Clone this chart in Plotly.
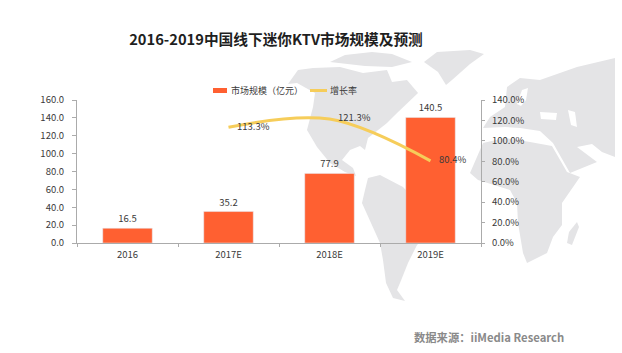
import plotly.graph_objects as go

categories = ["2016", "2017E", "2018E", "2019E"]
market_size = [16.5, 35.2, 77.9, 140.5]
growth_rate = [None, 113.3, 121.3, 80.4]
growth_labels = ["", "113.3%", "121.3%", "80.4%"]
left_ticks = [0, 20, 40, 60, 80, 100, 120, 140, 160]
right_ticks = [0, 20, 40, 60, 80, 100, 120, 140]

W, H = 622, 353
ML, MR, MT, MB = 77, 141, 100, 110
FONT = "Noto Sans CJK SC, Open Sans, sans-serif"
TXT = "#3a3a3a"
MAP = "#e4e4e6"
BAR = "#FF6031"
LINE = "#F6CD5A"

# Decorative backdrop outlines, in page pixels
land = [
    [(298,70),(313,68),(340,67),(363,73),(387,70),(392,82),(407,80),(418,93),(397,113),(387,123),(368,138),(365,150),(360,146),(350,150),(342,160),(353,168),(356,176),(345,172),(330,163),(317,147),(307,130),(313,107),(315,93),(297,83),(288,84)],
    [(330,62),(345,55),(372,52),(392,54),(412,62),(392,67),(365,66)],
    [(437,52),(470,50),(484,54),(470,64),(452,80),(446,85),(438,72),(424,62)],
    [(368,178),(380,175),(403,187),(420,205),(440,215),(432,232),(417,245),(408,263),(400,283),(397,290),(405,301),(393,298),(386,283),(383,260),(380,243),(362,203),(365,190)],
    [(507,87),(520,78),(540,80),(577,67),(615,58),(615,157),(602,152),(592,144),(577,147),(597,162),(570,173),(553,143),(540,131),(520,128),(505,127),(483,128),(490,117),(505,107)],
    [(470,173),(483,143),(505,138),(530,142),(552,146),(567,172),(580,177),(562,203),(562,225),(553,237),(547,253),(527,263),(523,253),(518,223),(517,203),(510,190),(478,180)],
    [(577,222),(579,227),(572,245),(567,243),(569,232)],
]
water = [
    [(540,112),(557,113),(556,120),(541,119)],
    [(568,110),(575,112),(577,127),(571,125)],
    [(517,104),(522,90),(528,88),(526,100),(521,106)],
]

def px(x, y):
    return (x - ML) / (W - ML - MR), 1 - (y - MT) / (H - MT - MB)

def path(points):
    return "M" + " L".join("%.4f,%.4f" % px(*p) for p in points) + " Z"

shapes = [dict(type="path", path=path(p), xref="paper", yref="paper", fillcolor=MAP,
               line=dict(width=0), layer="below") for p in land]
shapes += [dict(type="path", path=path(p), xref="paper", yref="paper", fillcolor="white",
                line=dict(width=0), layer="below") for p in water]

# Legend keys: wide flat swatch and short line, as in the source
x0, y0 = px(213, 88)
x1, y1 = px(227, 93)
shapes.append(dict(type="rect", xref="paper", yref="paper", x0=x0, x1=x1, y0=y0, y1=y1,
                   fillcolor=BAR, line=dict(width=0)))
x0, y0 = px(310, 90.5)
x1, _ = px(327, 90.5)
shapes.append(dict(type="line", xref="paper", yref="paper", x0=x0, x1=x1, y0=y0, y1=y0,
                   line=dict(color=LINE, width=3)))

def note(text, x, y, anchor, size, color):
    ax, ay = px(x, y)
    return dict(text=text, xref="paper", yref="paper", x=ax, y=ay, xanchor=anchor, yanchor="middle",
                showarrow=False, font=dict(size=size, color=color, family=FONT))

fig = go.Figure()
fig.add_bar(
    x=categories, y=market_size, name="市场规模（亿元）", marker_color=BAR, width=0.49,
    text=["%.1f" % v for v in market_size], textposition="outside", cliponaxis=False,
    textfont=dict(size=9.5, color=TXT, family=FONT),
)
fig.add_scatter(
    x=categories, y=growth_rate, name="增长率", yaxis="y2", mode="lines+text",
    line=dict(color=LINE, width=3, shape="spline", smoothing=1),
    text=["\u00a0\u00a0\u00a0\u00a0" + t for t in growth_labels], textposition="middle right",
    cliponaxis=False, textfont=dict(size=9.5, color=TXT, family=FONT),
)

axis_line = "#ababab"
fig.update_layout(
    width=W, height=H, autosize=False, showlegend=False,
    margin=dict(l=ML, r=MR, t=MT, b=MB),
    paper_bgcolor="white", plot_bgcolor="rgba(0,0,0,0)",
    font=dict(family=FONT, size=9.5, color=TXT),
    bargap=0.51, shapes=shapes,
    title=dict(text="<b>2016-2019中国线下迷你KTV市场规模及预测</b>", x=276 / W, xanchor="center",
               y=1 - 40 / H, yanchor="middle", font=dict(size=14.7, color="#1f1f1f", family=FONT)),
    xaxis=dict(type="category", showgrid=False, showline=True, linecolor=axis_line, ticks="outside",
               tickson="boundaries", ticklen=3, tickcolor=axis_line, ticklabelstandoff=3,
               tickfont=dict(size=9.5, color=TXT)),
    yaxis=dict(range=[0, 160], tickvals=left_ticks, ticktext=["%.1f" % v for v in left_ticks],
               showgrid=False, zeroline=False, showline=True, linecolor=axis_line, ticks="outside",
               ticklen=4, tickcolor=axis_line, ticklabelstandoff=6, tickfont=dict(size=9.5, color=TXT)),
    yaxis2=dict(range=[0, 140], tickvals=right_ticks, ticktext=["%.1f%%" % v for v in right_ticks],
                overlaying="y", side="right", showgrid=False, zeroline=False, showline=True,
                linecolor=axis_line, ticks="outside", ticklen=3, tickcolor=axis_line,
                ticklabelstandoff=5, tickfont=dict(size=9.5, color=TXT)),
    annotations=[
        note("市场规模（亿元）", 229, 90.5, "left", 9, TXT),
        note("增长率", 328, 90.5, "left", 9, TXT),
        note("<b>数据来源：iiMedia Research</b>", 566, 337, "right", 11.3, "#8a8a8a"),
    ],
)
fig.write_html("out.html", post_script="document.body.style.margin='0';",
               config={"displayModeBar": False})
